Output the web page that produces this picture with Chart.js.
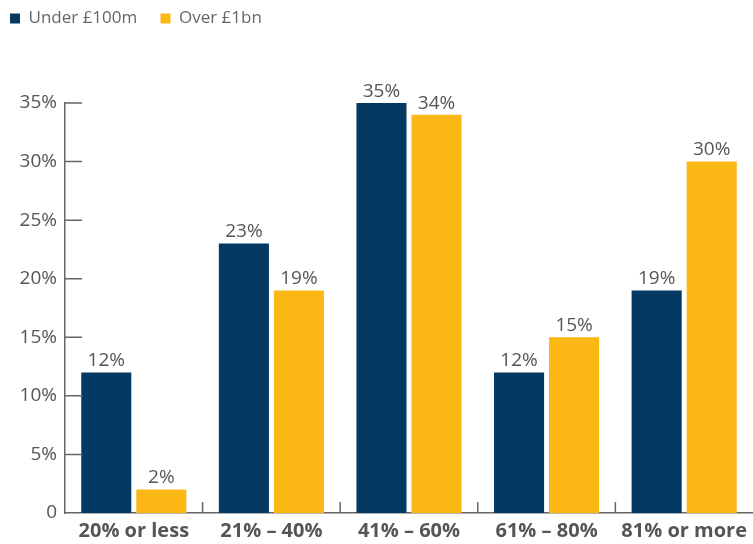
<!DOCTYPE html>
<html>
<head>
<meta charset="utf-8">
<script src="https://cdn.jsdelivr.net/npm/chart.js@4.4.0/dist/chart.umd.min.js"></script>
<style>
  html, body { margin: 0; padding: 0; background: #fff; }
  #wrap { width: 753px; height: 544px; }
</style>
</head>
<body>
<div id="wrap"><canvas id="myChart"></canvas></div>
<script>
let categories = ["20% or less", "21% – 40%", "41% – 60%", "61% – 80%", "81% or more"];
let under100m = [12, 23, 35, 12, 19];
let over1bn = [2, 19, 34, 15, 30];
let yTicks = [0, 5, 10, 15, 20, 25, 30, 35];

let navy = "#043964";
let yellow = "#FBB713";
let grey = "#555555";
let fontName = "'Open Sans', sans-serif";

// make room under the legend
let legendSpace = {
  id: "legendSpace",
  beforeInit(chart) {
    let orig = chart.legend.fit;
    chart.legend.fit = function () {
      orig.bind(chart.legend)();
      this.height += 66;
    };
  }
};

// ticks drawn inside the plot, like the original
let innerTicks = {
  id: "innerTicks",
  afterDraw(chart) {
    let ctx = chart.ctx;
    let x = chart.scales.x;
    let y = chart.scales.y;
    let area = chart.chartArea;
    ctx.save();
    ctx.strokeStyle = "#666";
    ctx.lineWidth = 1.5;
    ctx.beginPath();
    for (let i = 1; i < y.ticks.length; i++) {
      let py = y.getPixelForTick(i);
      ctx.moveTo(area.left, py);
      ctx.lineTo(area.left + 17, py);
    }
    for (let i = 1; i < categories.length; i++) {
      let px = x.getPixelForValue(i - 0.5);
      ctx.moveTo(px, area.bottom);
      ctx.lineTo(px, area.bottom - 11);
    }
    ctx.stroke();
    ctx.restore();
  }
};

// value labels above bars
let barLabels = {
  id: "barLabels",
  afterDatasetsDraw(chart) {
    let ctx = chart.ctx;
    ctx.save();
    ctx.font = "19px " + fontName;
    ctx.fillStyle = grey;
    ctx.textAlign = "center";
    ctx.textBaseline = "bottom";
    chart.data.datasets.forEach((ds, di) => {
      let meta = chart.getDatasetMeta(di);
      meta.data.forEach((bar, i) => {
        ctx.fillText(ds.data[i] + "%", bar.x, bar.y - 2);
      });
    });
    ctx.restore();
  }
};

new Chart("myChart", {
  type: "bar",
  data: {
    labels: categories,
    datasets: [
      {
        label: "Under £100m",
        data: under100m,
        backgroundColor: navy,
        categoryPercentage: 0.8,
        barPercentage: 0.91
      },
      {
        label: "Over £1bn",
        data: over1bn,
        backgroundColor: yellow,
        categoryPercentage: 0.8,
        barPercentage: 0.91
      }
    ]
  },
  options: {
    responsive: true,
    maintainAspectRatio: false,
    animation: false,
    layout: { padding: 0 },
    plugins: {
      legend: {
        position: "top",
        align: "start",
        labels: {
          boxWidth: 10,
          boxHeight: 10,
          padding: 10,
          color: "#666",
          font: { family: fontName, size: 17 },
          generateLabels(chart) {
            let items = Chart.defaults.plugins.legend.labels.generateLabels(chart);
            items[0].text = items[0].text + "   ";
            return items;
          }
        }
      },
      tooltip: { enabled: false }
    },
    scales: {
      x: {
        afterFit(scale) {
          scale.height = 31;
        },
        grid: { display: false, drawTicks: false, offset: true },
        border: { display: true, color: "#666", width: 1.5 },
        ticks: {
          color: grey,
          padding: 6,
          font: { family: fontName, size: 20, weight: "bold" }
        }
      },
      y: {
        min: 0,
        max: 35,
        afterFit(scale) {
          scale.width = 65;
        },
        afterBuildTicks(scale) {
          scale.ticks = yTicks.map(v => ({ value: v }));
        },
        grid: { display: false, drawTicks: false },
        border: { display: true, color: "#666", width: 1.5 },
        ticks: {
          color: grey,
          padding: 8,
          font: { family: fontName, size: 19 },
          callback: v => (v === 0 ? "0" : v + "%")
        }
      }
    }
  },
  plugins: [legendSpace, innerTicks, barLabels]
});
</script>
</body>
</html>
